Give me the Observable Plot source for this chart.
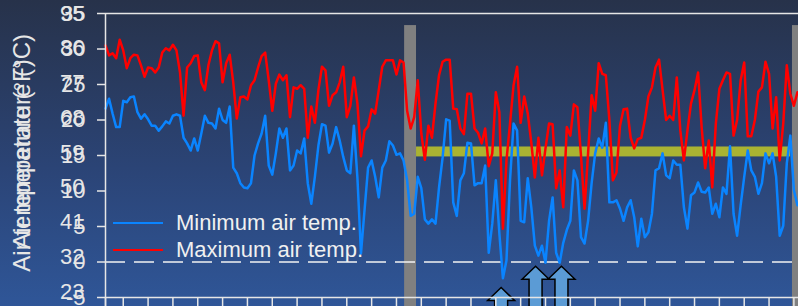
<!DOCTYPE html>
<html>
<head>
<meta charset="utf-8">
<script src="https://cdn.jsdelivr.net/npm/d3@7"></script>
<script src="https://cdn.jsdelivr.net/npm/@observablehq/plot@0.6"></script>
<style>
  html, body { margin: 0; padding: 0; }
  body { width: 798px; height: 306px; overflow: hidden;
         background: linear-gradient(to bottom, #27324a 0%, #2b4476 55%, #2f5698 100%);
         font-family: "Liberation Sans", Arial, sans-serif; }
  #wrap { position: relative; width: 798px; height: 306px; }
  #chart svg { display: block; }
  .leg { position: absolute; left: 113px; height: 26px; display: flex; align-items: center;
         color: #f0f0f0; font-size: 22px; line-height: 26px; white-space: nowrap; }
  .leg span.sw { display: inline-block; width: 50px; height: 2.5px; margin-right: 13px; }
</style>
</head>
<body>
<div id="wrap">
  <div id="chart"></div>
  <div class="leg" style="top:210px"><span class="sw" style="background:#0a84ff"></span>Minimum air temp.</div>
  <div class="leg" style="top:237px"><span class="sw" style="background:#ff0000"></span>Maximum air temp.</div>
</div>
<script>
// Daily maximum air temperature (°C)
const maxTemp = [
  30.5, 29.1, 29.4, 28.7, 31.3, 29.8, 27.3, 28.7, 29.2, 29.1, 27.7, 26.1, 27.4, 27.3, 26.7, 27.4, 29.5, 30.1, 29.8, 30.6, 29.8, 26.7, 20.6, 27.4, 28.0, 29.0, 29.1,
  25.3, 24.2, 27.7, 29.8, 31.1, 30.8, 25.3, 28.0, 29.2, 25.3, 20.2, 23.2, 23.3, 22.9, 24.9, 25.6, 27.4, 29.0, 29.5, 25.6, 21.3, 25.1, 26.4, 25.6, 26.3, 20.4, 24.6, 24.4, 24.9,
  24.4, 17.5, 21.9, 19.6, 24.2, 27.5, 27.0, 22.0, 23.5, 23.9, 25.3, 27.5, 20.4, 22.0, 26.0, 22.3, 14.9, 18.5, 19.1, 21.5, 20.9, 24.2, 27.5, 28.4, 28.4, 28.4, 26.4, 28.4,
  28.1, 21.3, 18.8, 20.4, 25.6, 18.1, 14.4, 19.2, 17.5, 22.3, 26.3, 28.2, 28.5, 28.5, 21.6, 21.5, 18.8, 18.0, 23.7, 23.7, 18.8, 18.2, 16.7, 18.8, 13.5, 15.3, 23.9, 21.1,
  4.7, 14.3, 19.5, 24.9, 27.5, 19.6, 23.3, 20.9, 16.8, 11.9, 17.5, 12.2, 16.0, 19.5, 19.4, 10.4, 12.9, 7.7, 19.0, 17.8, 22.2, 21.8, 15.0, 7.5, 15.3, 23.5, 21.3, 28.0,
  26.5, 26.3, 20.0, 11.5, 12.6, 19.2, 21.5, 21.6, 17.5, 16.0, 17.3, 17.5, 20.0, 23.3, 24.6, 27.4, 28.5, 24.2, 20.0, 20.6, 20.0, 26.0, 18.5, 14.3, 18.5, 22.3, 24.2, 26.7,
  19.0, 13.2, 17.1, 10.5, 19.5, 24.4, 25.6, 26.7, 26.5, 17.8, 20.0, 25.6, 28.1, 17.7, 17.7, 20.0, 24.0, 24.6, 28.2, 26.5, 18.8, 23.2, 14.3, 19.5, 27.7, 23.7, 22.0, 23.9
];
// Daily minimum air temperature (°C)
const minTemp = [
  21.6, 23.0, 20.9, 19.0, 19.0, 22.7, 22.5, 23.2, 23.3, 21.1, 20.2, 20.8, 20.1, 19.2, 19.2, 18.5, 19.1, 19.8, 19.5, 20.6, 20.8, 20.6, 17.5, 16.7, 15.7, 17.4, 15.7,
  18.1, 20.6, 19.6, 19.5, 18.8, 21.6, 20.0, 19.6, 21.9, 13.3, 12.5, 11.1, 10.5, 10.4, 11.1, 15.0, 16.7, 18.1, 20.6, 13.6, 12.3, 15.3, 18.8, 17.5, 18.8, 12.9, 13.6, 15.7, 15.3,
  17.4, 11.1, 8.2, 12.0, 16.4, 19.4, 19.2, 15.4, 16.7, 19.0, 17.1, 14.8, 12.9, 12.5, 19.2, 11.8, 1.2, 7.3, 13.3, 14.3, 12.0, 9.1, 13.3, 14.3, 17.0, 16.4, 15.1, 15.3,
  14.3, 11.5, 6.5, 6.8, 12.0, 10.4, 6.0, 5.4, 6.0, 5.4, 10.5, 14.7, 20.1, 19.9, 8.4, 6.5, 11.5, 12.5, 16.8, 16.7, 10.8, 11.1, 11.1, 13.6, 1.3, 5.4, 11.5, 4.0,
  -2.3, 0.2, 11.5, 19.5, 18.5, 5.8, 5.6, 11.8, 7.7, 2.3, 0.9, 2.3, -0.1, 5.8, 9.1, 1.3, -0.1, 2.7, 4.5, 5.8, 12.9, 11.5, 3.5, 2.6, 5.8, 11.1, 15.3, 17.4,
  16.1, 19.6, 8.4, 8.4, 8.7, 7.5, 5.8, 7.7, 8.7, 6.3, 2.2, 6.1, 3.5, 4.2, 6.8, 12.9, 13.2, 15.3, 12.2, 11.8, 14.3, 13.7, 13.7, 7.7, 4.7, 9.4, 9.8, 11.2,
  9.9, 9.8, 10.5, 6.8, 8.2, 6.3, 10.5, 9.6, 16.3, 6.8, 3.7, 8.0, 12.0, 15.7, 12.9, 12.0, 9.6, 11.1, 15.3, 13.9, 15.3, 12.0, 3.7, 5.1, 13.9, 17.8, 10.1, 8.0
];
// Tick labels of the two overlaid temperature axes
const celsiusTicks = [35, 30, 25, 20, 15, 10, 5, 0, -5];
const fahrenheitTicks = [95, 86, 77, 68, 59, 50, 41, 32, 23];
// Weekly ticks on the day axis (day index)
const weekTicks = [0, 5, 12, 19, 26, 33, 40, 47, 54, 61, 68, 75, 82, 89, 96, 103, 110, 117, 124, 131, 138, 145, 152, 159, 166, 173, 180, 187, 194];
// Grey period markers (day index range) and their top (°C)
const markerStart = [84.3, 193.6];
const markerEnd = [87.65, 196.5];
const markerTop = 33.3;
// Highlighted band (day range, °C range)
const bandStart = [87.65];
const bandEnd = [193.05];
const bandLow = [14.8];
const bandHigh = [16.2];
// Up-arrow annotations (day index, tip temperature °C)
const arrowDay = [111.5, 121.2, 128.5];
const arrowTip = [-3.6, -0.6, -0.6];

const series = maxTemp.map((v, i) => ({day: i, max: v, min: minTemp[i]}));
const markers = markerStart.map((s, i) => ({start: s, end: markerEnd[i]}));
const band = bandStart.map((s, i) => ({start: s, end: bandEnd[i], low: bandLow[i], high: bandHigh[i]}));
const arrows = arrowDay.map((d, i) => ({day: d, tip: arrowTip[i]}));

const blockArrow = {
  draw(ctx) {
    ctx.moveTo(0, 0);
    ctx.lineTo(13.5, 13);
    ctx.lineTo(6.5, 13);
    ctx.lineTo(6.5, 70);
    ctx.lineTo(-6.5, 70);
    ctx.lineTo(-6.5, 13);
    ctx.lineTo(-13.5, 13);
    ctx.closePath();
  }
};

const ink = "#e6e6e6";
const yBottomExt = -5 - 9 / (284 / 40);   // 9px below the axis

const chart = Plot.plot({
  width: 798,
  height: 306,
  marginLeft: 105,
  marginRight: 0,
  marginTop: 13,
  marginBottom: 9,
  style: {background: "transparent", fontFamily: "'Liberation Sans', Arial, sans-serif", overflow: "hidden"},
  x: {domain: [0, 195.3], axis: null},
  y: {domain: [-5, 35], axis: null},
  marks: [
    Plot.rect(band, {x1: "start", x2: "end", y1: "low", y2: "high", fill: "#aab332"}),
    Plot.rect(markers, {x1: "start", x2: "end", y1: markerTop, y2: yBottomExt, fill: "#808080"}),
    Plot.ruleY([0], {stroke: "#f2f2f2", strokeWidth: 1.5, strokeDasharray: "20,9"}),
    Plot.line(series, {x: "day", y: "min", stroke: "#0a84ff", strokeWidth: 2.5}),
    Plot.line(series, {x: "day", y: "max", stroke: "#ff0000", strokeWidth: 2.5}),
    Plot.dot(arrows, {x: "day", y: "tip", symbol: blockArrow, fill: "#5b9bd5", stroke: "#000", strokeWidth: 1.5}),
    // frame lines
    Plot.ruleY([35], {stroke: ink, strokeWidth: 1.5}),
    Plot.ruleY([-5], {stroke: ink, strokeWidth: 1.5}),
    Plot.ruleX(weekTicks, {y1: -5, y2: yBottomExt, stroke: ink, strokeWidth: 1.5}),
    Plot.ruleX([0], {y1: yBottomExt, y2: 35, stroke: ink, strokeWidth: 1.5}),
    // y ticks and Celsius labels
    Plot.tickY(celsiusTicks, {y: d => d, frameAnchor: "left", stroke: ink, strokeWidth: 1.5, insetLeft: -8, insetRight: 693}),
    Plot.text(celsiusTicks, {y: d => d, text: d => String(d), frameAnchor: "left", textAnchor: "end", dx: -20, fontSize: 22, fill: ink}),
    // Fahrenheit labels (slightly compressed axis, overlaid)
    Plot.text(fahrenheitTicks, {y: f => (f - 32) / 1.8 + (35 - (f - 32) / 1.8) * 0.021, text: d => String(d), frameAnchor: "left", textAnchor: "end", dx: -21, fontSize: 22, fill: ink}),
    // overlaid axis titles
    Plot.text(["Air temperature (°F)"], {text: d => d, frameAnchor: "left", textAnchor: "middle", rotate: -90, dx: -83, dy: 10, fontSize: 24, fill: ink}),
    Plot.text(["Air temperature (°C)"], {text: d => d, frameAnchor: "left", textAnchor: "middle", rotate: -90, dx: -83, dy: -14, fontSize: 24, fill: ink})
  ]
});
document.getElementById("chart").appendChild(chart);
</script>
</body>
</html>
